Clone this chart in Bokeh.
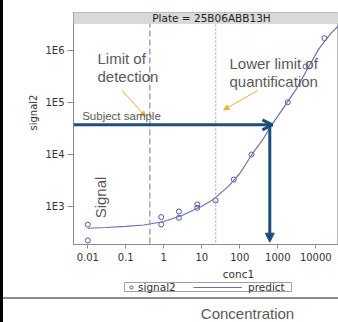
import math
from bokeh.plotting import figure
from bokeh.models import (Range1d, FixedTicker, CustomJSTickFormatter, Label, Span, Title,
                          BoxAnnotation, Arrow, OpenHead, NormalHead, Legend, LegendItem,
                          ColumnDataSource, Spacer)
from bokeh.layouts import row, column
from bokeh.core.properties import value
from bokeh.embed import file_html
from bokeh.resources import INLINE

# ---- data ----
conc = [0.01, 0.01, 0.855, 0.855, 2.5, 2.5, 7.6, 7.6, 23, 69.5, 203, 1833, 5360, 16900]
signal2 = [219, 440, 617, 445, 790, 598, 1080, 930, 1290, 3260, 9870, 100000, 486000, 1700000]

pred_conc = [0.01, 0.03, 0.1, 0.3, 1, 3, 10, 20, 50, 100, 200, 400, 700, 1500, 3000, 6000,
             12000, 25000, 40000]
predict = [376, 389, 408, 435, 508, 662, 1000, 1350, 2400, 4250, 9450, 19000, 37000, 83000,
           175000, 430000, 1060000, 2100000, 3000000]

x_ticks = [0.01, 0.1, 1, 10, 100, 1000, 10000]
y_ticks = [1e3, 1e4, 1e5, 1e6]

lod = 0.4285          # limit of detection
lloq = 23.3           # lower limit of quantification
subject_signal = 36700
subject_conc = 615
plate = "25B06ABB13H"

BLUE = "#1f4e79"
ORANGE = "#f2aa35"
GRAY_TXT = "#595959"
MARK = "#4d5aa3"
LINE = "#6a72ad"

p = figure(width=335, height=264, x_axis_type="log", y_axis_type="log",
           x_range=Range1d(0.004207, 39540), y_range=Range1d(183.2, 5.31e6),
           output_backend="svg", toolbar_location=None,
           min_border_left=70, min_border_right=0, min_border_top=12, min_border_bottom=20)
p.xgrid.visible = False
p.ygrid.visible = False
p.outline_line_color = "#b5b5b5"
p.background_fill_color = "white"
p.border_fill_color = "white"

p.xaxis.ticker = FixedTicker(ticks=x_ticks)
p.yaxis.ticker = FixedTicker(ticks=y_ticks)
p.xaxis.formatter = CustomJSTickFormatter(code="return String(Number(tick.toPrecision(6)));")
p.yaxis.formatter = CustomJSTickFormatter(code="return '1E' + Math.round(Math.log10(tick));")
for ax in (p.xaxis[0], p.yaxis[0]):
    ax.axis_line_color = "#8c8c8c"
    ax.major_tick_line_color = "#8c8c8c"
    ax.minor_tick_line_color = None
    ax.major_tick_in = 0
    ax.major_label_text_font = "DejaVu Sans"
    ax.major_label_text_font_size = "10px"
    ax.major_label_text_color = "#333333"
p.xaxis.major_tick_out = 4
p.xaxis.major_label_standoff = 4
p.yaxis.major_tick_out = 6
p.yaxis.major_label_standoff = 3

# y axis title
p.add_layout(Title(text="signal2", align="left", offset=114, standoff=8,
                   text_font="DejaVu Sans", text_font_size="10px", text_color="#333333",
                   text_font_style="normal"), "left")

# reference lines
p.add_layout(Span(location=lod, dimension="height", line_color="#a6a6a6",
                  line_dash="6 3", line_width=1.5))
p.add_layout(Span(location=lloq, dimension="height", line_color="#9a9a9a",
                  line_dash="2 2", line_width=1))

# data
src = ColumnDataSource(dict(x=conc, y=signal2))
p.scatter("x", "y", source=src, marker="circle", size=5, fill_color=None,
          line_color=MARK, line_width=1)
psrc = ColumnDataSource(dict(x=pred_conc, y=predict))
p.line("x", "y", source=psrc, line_color=LINE, line_width=1.2)

# header band
p.add_layout(BoxAnnotation(bottom=3.26e6, fill_color="#d9d9d9", fill_alpha=1,
                           line_color="#b0b0b0", line_width=1))
p.add_layout(Label(x=138, y=226.5, x_units="screen", y_units="screen",
                   text="Plate = " + plate, text_align="center", text_baseline="middle",
                   text_font="DejaVu Sans", text_font_size="10.5px", text_color="#222222"))

# subject sample arrows
p.add_layout(Arrow(end=OpenHead(size=10, line_color=BLUE, line_width=3),
                   x_start=0.0042, y_start=subject_signal, x_end=720, y_end=subject_signal,
                   line_color=BLUE, line_width=3))
p.add_layout(Arrow(end=NormalHead(size=9, fill_color=BLUE, line_color=BLUE),
                   x_start=subject_conc, y_start=subject_signal, x_end=subject_conc, y_end=203,
                   line_color=BLUE, line_width=3))

# orange pointer arrows
p.add_layout(Arrow(end=NormalHead(size=5, fill_color=ORANGE, line_color=ORANGE),
                   x_start=0.0804, y_start=168000, x_end=0.33, y_end=53100,
                   line_color=ORANGE, line_width=1))
p.add_layout(Arrow(end=NormalHead(size=5, fill_color=ORANGE, line_color=ORANGE),
                   x_start=298, y_start=168000, x_end=37.9, y_end=71400,
                   line_color=ORANGE, line_width=1))

def lab(x, y, t, size="15px", font="Liberation Sans", color=GRAY_TXT, align="left", angle=0):
    p.add_layout(Label(x=x, y=y, x_units="screen", y_units="screen", text=t,
                       text_align=align, text_baseline="middle", angle=angle,
                       text_font=font, text_font_size=size, text_color=color))

lab(24, 186, "Limit of")
lab(24, 168, "detection")
lab(156, 181, "Lower limit of")
lab(156, 163, "quantification")
lab(8.7, 128.3, "Subject sample", size="11.5px")
lab(27, 47, "Signal", align="center", angle=math.pi / 2)


def strip_fig(h, y0, y1):
    f = figure(width=335, height=h, x_range=Range1d(73, 338), y_range=Range1d(y1, y0),
               output_backend="svg", toolbar_location=None,
               x_axis_location=None, y_axis_location=None,
               min_border_left=70, min_border_right=0, min_border_top=0, min_border_bottom=0)
    f.grid.visible = False
    f.outline_line_color = None
    f.border_fill_color = "white"
    f.background_fill_color = "white"
    return f

# ---- x-axis title and legend ----
q = strip_fig(33, 264, 297)
q.text(x=[238], y=[273], text=["conc1"], text_align="center", text_baseline="middle",
       text_font=value("DejaVu Sans"), text_font_size="10.5px", text_color="#333333")
q.quad(left=[124], right=[291], top=[282], bottom=[291], fill_color="white",
       line_color="#a0a0a0", line_width=1)
# legend proxies (kept outside the visible range)
leg_pts = q.scatter(x=[-500], y=[-500], marker="circle", size=5, fill_color=None,
                    line_color=MARK, line_width=1)
leg_ln = q.line(x=[-500, -400], y=[-500, -500], line_color=LINE, line_width=1.2)
for item, gw, loc, so in ((LegendItem(label="signal2", renderers=[leg_pts]), 8, (54, 4.5), 3),
                          (LegendItem(label="predict", renderers=[leg_ln]), 49, (120, 4.5), 6)):
    q.add_layout(Legend(items=[item], location=loc, glyph_width=gw, glyph_height=8,
                        label_height=8, label_standoff=so, padding=0, margin=0,
                        border_line_color=None, background_fill_alpha=0,
                        label_text_font="DejaVu Sans", label_text_font_size="10.5px",
                        label_text_color="#333333"))

# ---- separator and caption ----
sep = Spacer(width=335, height=2, styles={"background-color": "#8c8c8c"})
cap = strip_fig(23, 299, 322)
cap.text(x=[247], y=[312.7], text=["Concentration"], text_align="center",
         text_baseline="middle", text_font=value("Liberation Sans"), text_font_size="15px",
         text_color=GRAY_TXT)

strip = Spacer(width=3, height=322, styles={"background-color": "black"})
layout = row(strip, column(p, q, sep, cap, spacing=0), spacing=0)

open("out.html", "w").write(file_html(layout, INLINE))
